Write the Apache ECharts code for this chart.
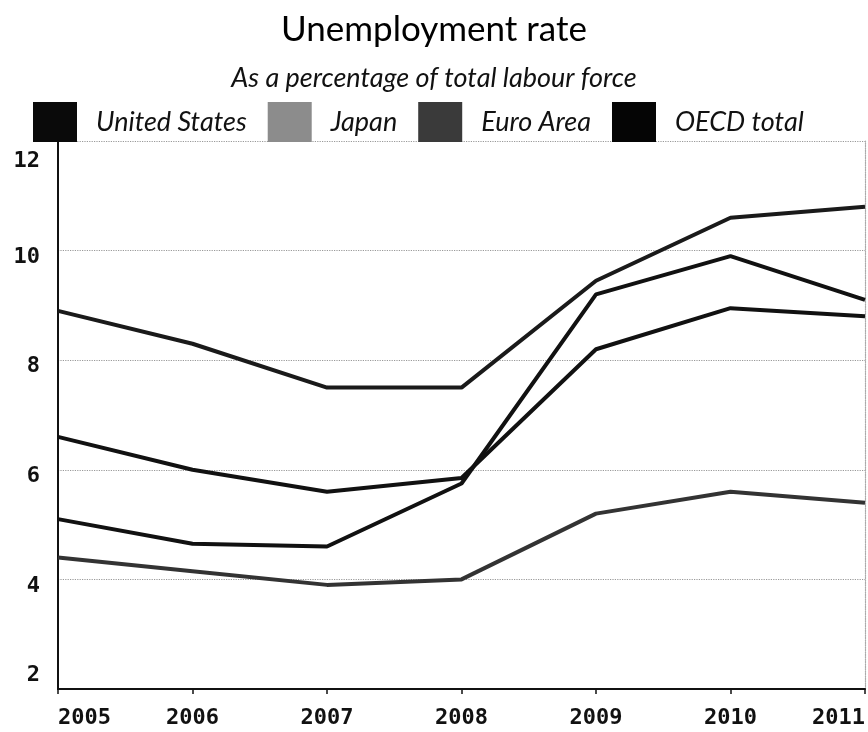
<!DOCTYPE html>
<html>
<head>
<meta charset="utf-8">
<style>
html,body{margin:0;padding:0;background:#fff;}
#chart{width:868px;height:732px;}
</style>
<script src="https://cdn.jsdelivr.net/npm/echarts@6/dist/echarts.min.js"></script>
</head>
<body>
<div id="chart"></div>
<script>
// ---- data ----
const years = ['2005', '2006', '2007', '2008', '2009', '2010', '2011'];
const unitedStates = [5.1, 4.65, 4.6, 5.75, 9.2, 9.9, 9.1];
const japan = [4.4, 4.15, 3.9, 4.0, 5.2, 5.6, 5.4];
const euroArea = [8.9, 8.3, 7.5, 7.5, 9.45, 10.6, 10.8];
const oecdTotal = [6.6, 6.0, 5.6, 5.85, 8.2, 8.95, 8.8];
const seriesNames = ['United States', 'Japan', 'Euro Area', 'OECD total'];
const yTicks = [2, 4, 6, 8, 10, 12];

const chart = echarts.init(document.getElementById('chart'));
const monoFont = '"DejaVu Sans Mono", "Liberation Mono", monospace';
const labelFont = 'Lato, "Open Sans", sans-serif';

const legendColors = ['#0a0a0a', '#8c8c8c', '#3a3a3a', '#050505'];
const lineColors = ['#111', '#333', '#1a1a1a', '#111'];
const seriesData = [unitedStates, japan, euroArea, oecdTotal];

const yRich = {};
yTicks.forEach(v => {
  let pad = [13, 0, 0, 0];
  if (v === 12) pad = [40, 0, 0, 0];
  if (v === 2) pad = [0, 0, 28, 0];
  yRich['v' + v] = {fontFamily: monoFont, fontWeight: 'bold', fontSize: 22, color: '#111', padding: pad};
});

chart.setOption({
  backgroundColor: '#fff',
  animation: false,
  title: {
    text: 'Unemployment rate',
    subtext: 'As a percentage of total labour force',
    left: 'center',
    top: 7,
    itemGap: 18,
    textStyle: {fontFamily: labelFont, fontSize: 35, fontWeight: 'normal', color: '#000'},
    subtextStyle: {fontFamily: labelFont, fontSize: 27, fontStyle: 'italic', color: '#111'}
  },
  legend: {
    left: 28,
    top: 97,
    icon: 'rect',
    itemWidth: 44,
    itemHeight: 40,
    itemGap: 21,
    textStyle: {fontFamily: labelFont, fontSize: 27, fontStyle: 'italic', color: '#111', padding: [0, 0, 0, 14]},
    data: seriesNames.map((n, i) => ({name: n, itemStyle: {color: legendColors[i]}}))
  },
  grid: {left: 58, right: 2, top: 141, bottom: 43},
  xAxis: {
    type: 'category',
    data: years,
    boundaryGap: false,
    axisLine: {lineStyle: {color: '#111', width: 2}},
    axisTick: {show: true, length: 5, lineStyle: {color: '#111', width: 1.5}},
    axisLabel: {
      fontFamily: monoFont, fontWeight: 'bold', fontSize: 22, color: '#111', margin: 18,
      alignMinLabel: 'left', alignMaxLabel: 'right'
    },
    splitLine: {show: false}
  },
  yAxis: [{
    type: 'value',
    min: 2, max: 12, interval: 2,
    axisLine: {show: true, lineStyle: {color: '#111', width: 2}},
    axisTick: {show: false},
    axisLabel: {
      margin: 18,
      formatter: v => '{v' + v + '|' + v + '}',
      rich: yRich
    },
    splitLine: {show: true, lineStyle: {color: '#999', type: 'dotted', width: 1.2}}
  }, {
    type: 'value',
    position: 'right',
    min: 2, max: 12, interval: 2,
    axisLine: {show: true, lineStyle: {color: '#aaa', type: 'dotted', width: 1.2}},
    axisTick: {show: false},
    axisLabel: {show: false},
    splitLine: {show: false}
  }],
  series: seriesNames.map((n, i) => ({
    name: n,
    type: 'line',
    data: seriesData[i],
    showSymbol: false,
    symbol: 'none',
    itemStyle: {color: legendColors[i]},
    lineStyle: {color: lineColors[i], width: 4},
    z: 5
  }))
});
</script>
</body>
</html>
